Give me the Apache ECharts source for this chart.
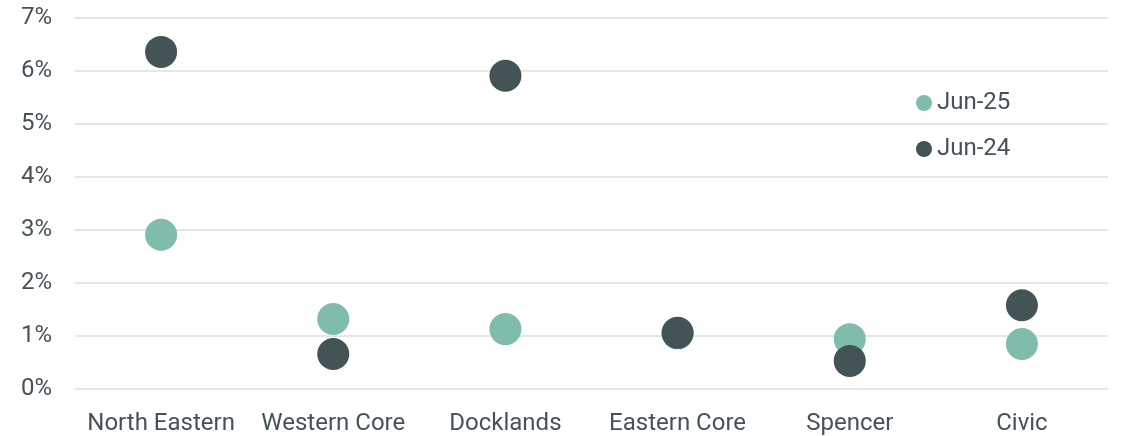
<!DOCTYPE html>
<html>
<head>
<meta charset="utf-8">
<script src="https://cdn.jsdelivr.net/npm/echarts@6/dist/echarts.min.js"></script>
<style>
html,body{margin:0;padding:0;background:#fff;}
#chart{width:1122px;height:436px;}
</style>
</head>
<body>
<div id="chart"></div>
<script>
const categories = ['North Eastern', 'Western Core', 'Docklands', 'Eastern Core', 'Spencer', 'Civic'];
const jun25 = [2.91, 1.32, 1.13, 1.05, 0.94, 0.85];
const jun24 = [6.36, 0.66, 5.91, 1.06, 0.53, 1.58];
const yTicks = [0, 1, 2, 3, 4, 5, 6, 7];

const textColor = '#46525a';
const font = 'Roboto';
const chart = echarts.init(document.getElementById('chart'), null, {renderer: 'canvas'});
chart.setOption({
  animation: false,
  backgroundColor: '#ffffff',
  grid: {left: 75, right: 14, top: 18, bottom: 47, containLabel: false},
  legend: {
    orient: 'vertical',
    left: 911,
    top: 86,
    itemWidth: 16,
    itemHeight: 16,
    itemGap: 22,
    icon: 'circle',
    textStyle: {color: textColor, fontSize: 24, fontFamily: font},
    data: ['Jun-25', 'Jun-24']
  },
  xAxis: {
    type: 'category',
    data: categories,
    axisLine: {show: false},
    axisTick: {show: false},
    axisLabel: {color: textColor, fontSize: 24, fontFamily: font, margin: 23, interval: 0, hideOverlap: false}
  },
  yAxis: {
    type: 'value',
    min: yTicks[0],
    max: yTicks[yTicks.length - 1],
    interval: 1,
    axisLine: {show: false},
    axisTick: {show: false},
    axisLabel: {color: textColor, fontSize: 24, fontFamily: font, margin: 23, formatter: v => v + '%'},
    splitLine: {lineStyle: {color: '#e3e7e7', width: 2}}
  },
  series: [
    {
      name: 'Jun-25',
      type: 'scatter',
      symbol: 'circle',
      symbolSize: 32,
      itemStyle: {color: '#7fbcab', opacity: 1},
      data: jun25,
      z: 2
    },
    {
      name: 'Jun-24',
      type: 'scatter',
      symbol: 'circle',
      symbolSize: 32,
      itemStyle: {color: '#435456', opacity: 1},
      data: jun24,
      z: 3
    }
  ]
});
</script>
</body>
</html>
